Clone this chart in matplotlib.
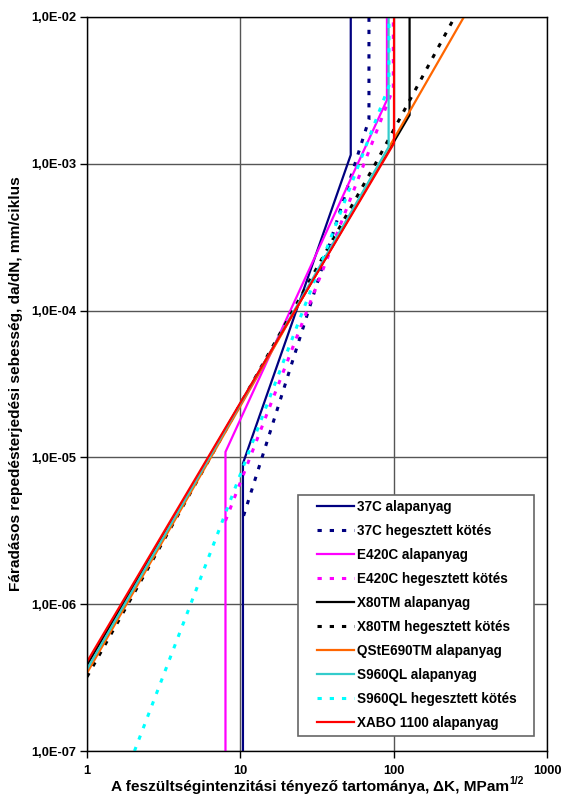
import matplotlib
matplotlib.use("Agg")
import matplotlib.pyplot as plt
from matplotlib.ticker import FixedLocator, FixedFormatter, NullLocator
from matplotlib.patches import Rectangle

plt.rcParams['font.family'] = ['Liberation Sans', 'DejaVu Sans']
plt.rcParams['font.weight'] = 'bold'

# ---- data (ΔK in MPa·m^1/2, da/dN in mm/ciklus) ----
labels = ["37C alapanyag", "37C hegesztett kötés",
          "E420C alapanyag", "E420C hegesztett kötés",
          "X80TM alapanyag", "X80TM hegesztett kötés",
          "QStE690TM alapanyag", "S960QL alapanyag",
          "S960QL hegesztett kötés", "XABO 1100 alapanyag"]

dk_37c_a = [10.4, 10.4, 52.5, 52.5]
da_37c_a = [1e-7, 9.1e-6, 1.15e-3, 1e-2]
dk_37c_h = [10.5, 69, 69]
da_37c_h = [4.0e-6, 2.0e-3, 1e-2]
dk_e420_a = [8.0, 8.0, 90.4, 90.4]
da_e420_a = [1e-7, 1.09e-5, 2.72e-3, 1e-2]
dk_e420_h = [8.0, 99.5, 99.5]
da_e420_h = [3.7e-6, 3.27e-3, 1e-2]
dk_x80_a = [1, 127, 127]
da_x80_a = [3.85e-7, 2.15e-3, 1e-2]
dk_x80_h = [1, 76, 250]
da_x80_h = [3.2e-7, 1.0e-3, 1e-2]
dk_qste = [1, 287]
da_qste = [3.4e-7, 1e-2]
dk_s960_a = [1, 92.7, 92.7]
da_s960_a = [3.6e-7, 1.3e-3, 1e-2]
dk_s960_h = [2.04, 93.2, 93.2]
da_s960_h = [1e-7, 3.4e-3, 1e-2]
dk_xabo = [1, 100.5, 100.5]
da_xabo = [4.05e-7, 1.38e-3, 1e-2]

x_ticks = [1, 10, 100, 1000]
x_tick_labels = ["1", "10", "100", "1000"]
y_ticks = [1e-7, 1e-6, 1e-5, 1e-4, 1e-3, 1e-2]
y_tick_labels = ["1,0E-07", "1,0E-06", "1,0E-05", "1,0E-04", "1,0E-03", "1,0E-02"]
x_label_main = "A feszültségintenzitási tényező tartománya, ΔK, MPam"
x_label_sup = "1/2"
y_label = "Fáradásos repedésterjedési sebesség, da/dN, mm/ciklus"

series = [(dk_37c_a, da_37c_a), (dk_37c_h, da_37c_h),
          (dk_e420_a, da_e420_a), (dk_e420_h, da_e420_h),
          (dk_x80_a, da_x80_a), (dk_x80_h, da_x80_h),
          (dk_qste, da_qste), (dk_s960_a, da_s960_a),
          (dk_s960_h, da_s960_h), (dk_xabo, da_xabo)]
colors = ["#000080", "#000080", "#FF00FF", "#FF00FF", "#000000", "#000000",
          "#FF6600", "#33CCCC", "#00FFFF", "#FF0000"]
dotted = [False, True, False, True, False, True, False, False, True, False]

W, H = 563, 796
fig = plt.figure(figsize=(W/100, H/100), dpi=100)
ax = fig.add_axes([87/W, 1-751/H, 460/W, 734/H])
ax.set_xscale('log')
ax.set_yscale('log')
ax.set_xlim(1, 1000)
ax.set_ylim(1e-7, 1e-2)

for (x, y), c, d, lab in zip(series, colors, dotted, labels):
    if d:
        ax.plot(x, y, color=c, lw=2.2, linestyle=(0, (1.4, 2.6)),
                dash_capstyle='butt', label=lab)
    else:
        ax.plot(x, y, color=c, lw=1.6, label=lab, solid_joinstyle='miter')

ax.xaxis.set_major_locator(FixedLocator(x_ticks))
ax.xaxis.set_major_formatter(FixedFormatter(x_tick_labels))
ax.xaxis.set_minor_locator(NullLocator())
ax.yaxis.set_major_locator(FixedLocator(y_ticks))
ax.yaxis.set_major_formatter(FixedFormatter(y_tick_labels))
ax.yaxis.set_minor_locator(NullLocator())
ax.grid(True, which='major', color='#555555', lw=1.0)
ax.set_axisbelow(True)
for s in ax.spines.values():
    s.set_color('black')
    s.set_linewidth(1.0)
ax.tick_params(axis='both', direction='out', length=5, width=1, labelsize=9.3)
ax.tick_params(axis='y', pad=3)
ax.tick_params(axis='x', pad=5)
for t in ax.get_xticklabels() + ax.get_yticklabels():
    t.set_fontweight('bold')

ax.set_xlabel(x_label_main, fontsize=11.1, fontweight='bold')
ax.xaxis.label.set_va('baseline')
ax.xaxis.set_label_coords(0.5 - 7/460, (751-790.5)/734)
ax.set_ylabel(y_label, fontsize=11.1, fontweight='bold')
ax.yaxis.label.set_va('center')
ax.yaxis.set_label_coords((16.5-87)/460, 0.5)

fig.canvas.draw()
bb = ax.xaxis.label.get_window_extent(fig.canvas.get_renderer())
fig.text((bb.x1 + 0.5)/W, (796-790.5+7)/H, x_label_sup, fontsize=7.5,
         fontweight='bold', ha='left', va='baseline')

# legend frame (box 298..534 x 495..736 px)
fx0, fx1, fy0, fy1 = 298, 534, 495, 736
ax.add_patch(Rectangle(((fx0-87)/460, (751-fy1)/734), (fx1-fx0)/460, (fy1-fy0)/734,
                       transform=ax.transAxes, facecolor='white',
                       edgecolor='#666666', lw=1.2, zorder=5))
leg = ax.legend(loc='upper left', bbox_to_anchor=((317-87)/460, (751-499.5)/734),
                fontsize=9.75, frameon=False, borderpad=0,
                labelspacing=0.74, handlelength=2.7, handletextpad=0.25,
                borderaxespad=0)
leg.set_zorder(6)
for t in leg.get_texts():
    t.set_fontweight('bold')

fig.savefig("out.png", dpi=100)
